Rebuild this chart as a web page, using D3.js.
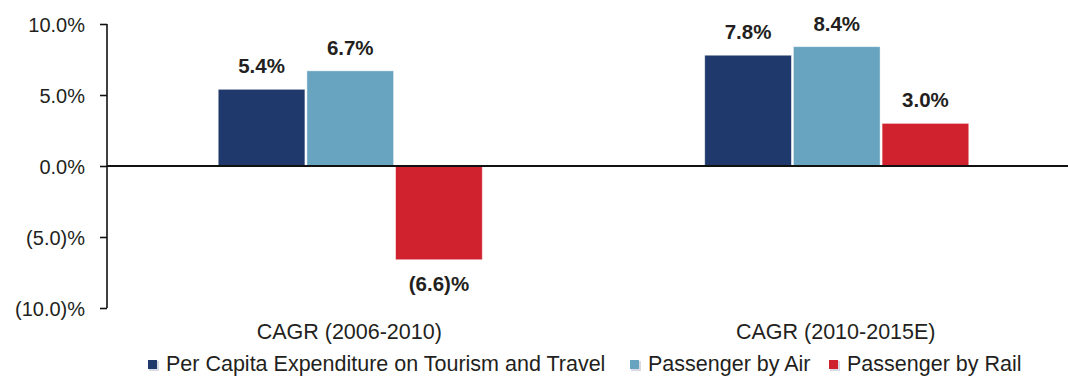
<!DOCTYPE html>
<html>
<head>
<meta charset="utf-8">
<script src="https://cdn.jsdelivr.net/npm/d3@7/dist/d3.min.js"></script>
<style>
  html, body { margin: 0; padding: 0; background: #fff; }
  svg { display: block; font-family: "Liberation Sans", Arial, Helvetica, sans-serif; }
</style>
</head>
<body>
<svg id="chart" width="1068" height="376"></svg>
<script>
// Periods and series
const categories = ["CAGR (2006-2010)", "CAGR (2010-2015E)"];
const seriesNames = ["Per Capita Expenditure on Tourism and Travel", "Passenger by Air", "Passenger by Rail"];
const perCapitaExpenditure = [5.4, 7.8];
const passengerByAir = [6.7, 8.4];
const passengerByRail = [-6.6, 3.0];
const yTicks = [10, 5, 0, -5, -10];
const colors = ["#1f396d", "#68a3c0", "#d0222e"];

const seriesValues = [perCapitaExpenditure, passengerByAir, passengerByRail];
const rows = categories.map((c, i) => ({
  category: c,
  values: seriesValues.map((vals, s) => ({ series: s, value: vals[i] }))
}));

const svg = d3.select("#chart");
const fmt = v => v < 0 ? "(" + Math.abs(v).toFixed(1) + ")%" : v.toFixed(1) + "%";

const y = d3.scaleLinear().domain([-10, 10]).range([308, 24]);
const x0 = d3.scaleBand().domain(categories).range([107, 1080]);
const groupWidth = 264;
const x1 = d3.scaleBand().domain(d3.range(seriesNames.length)).range([0, groupWidth]).paddingInner(0.023);

// Y axis
const yAxis = d3.axisLeft(y).tickValues(yTicks).tickSize(7).tickPadding(15).tickFormat(fmt);
const gy = svg.append("g").attr("transform", "translate(107,0)").call(yAxis);
gy.select(".domain").attr("stroke", "#111").attr("stroke-width", 1.6).attr("d", "M0,24V308");
gy.selectAll(".tick line").attr("stroke", "#111").attr("stroke-width", 1.6);
gy.selectAll(".tick text").attr("fill", "#231f20").style("font-size", "20px").attr("dy", "0.35em");

// Bars
const groups = svg.append("g").selectAll("g").data(rows).join("g")
  .attr("transform", d => `translate(${x0(d.category) + x0.bandwidth() / 2 - groupWidth / 2},0)`);

groups.selectAll("rect").data(d => d.values).join("rect")
  .attr("x", d => x1(d.series))
  .attr("width", x1.bandwidth())
  .attr("y", d => y(Math.max(0, d.value)))
  .attr("height", d => Math.abs(y(d.value) - y(0)))
  .attr("fill", d => colors[d.series])
  .attr("stroke", "rgba(255,255,255,0.5)")
  .attr("stroke-width", 0.8);

groups.selectAll("text.val").data(d => d.values).join("text")
  .attr("class", "val")
  .attr("x", d => x1(d.series) + x1.bandwidth() / 2)
  .attr("y", d => d.value >= 0 ? y(d.value) - 16 : y(d.value) + 31)
  .attr("text-anchor", "middle")
  .attr("fill", "#231f20")
  .style("font-size", "20.5px")
  .style("font-weight", "bold")
  .text(d => fmt(d.value));

// Zero line
svg.append("line")
  .attr("x1", 107).attr("x2", 1068)
  .attr("y1", y(0)).attr("y2", y(0))
  .attr("stroke", "#111").attr("stroke-width", 2);

// Category labels
svg.append("g").selectAll("text").data(categories).join("text")
  .attr("x", d => x0(d) + x0.bandwidth() / 2 - 1)
  .attr("y", 339)
  .attr("text-anchor", "middle")
  .attr("fill", "#231f20")
  .style("font-size", "21.5px")
  .text(d => d);

// Legend
const legendX = [148, 630, 829];
const legend = svg.append("g").selectAll("g").data(seriesNames).join("g")
  .attr("transform", (d, i) => `translate(${legendX[i]},360)`);
legend.append("rect")
  .attr("x", 1).attr("y", 1).attr("width", 10).attr("height", 10)
  .attr("fill", "#d8dbe3");
legend.append("rect")
  .attr("x", 0).attr("y", 0).attr("width", 9).attr("height", 9)
  .attr("fill", (d, i) => colors[i]);
legend.append("text")
  .attr("x", 18).attr("y", 11)
  .attr("fill", "#231f20")
  .style("font-size", "21.5px")
  .text(d => d);
</script>
</body>
</html>
